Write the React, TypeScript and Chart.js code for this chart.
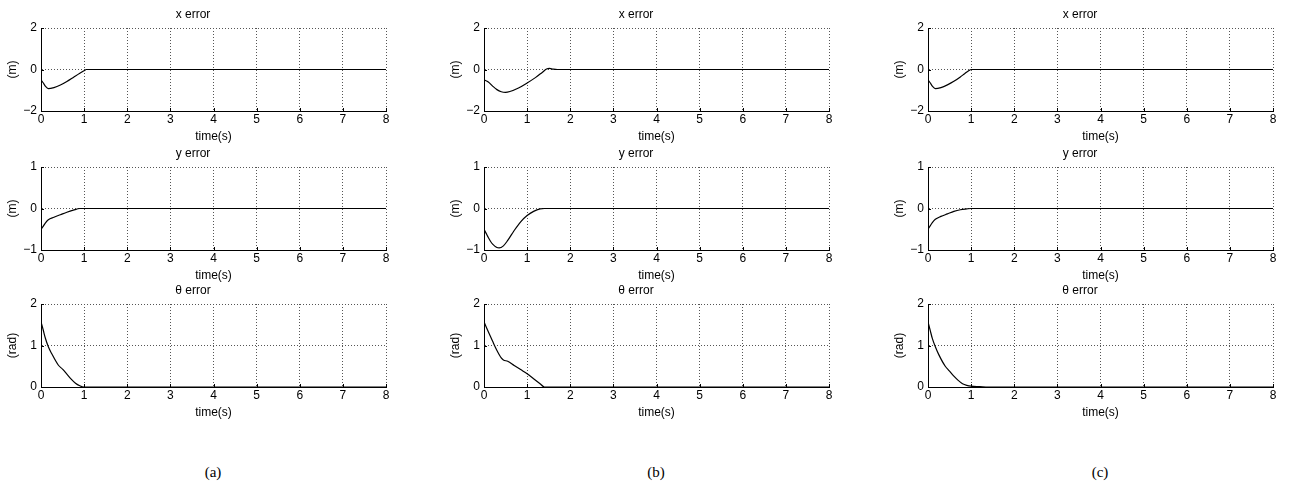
import React, { useEffect, useRef } from 'react';
import { Chart, registerables } from 'chart.js';

Chart.register(...registerables);

// ---------- data ----------
const timeTicks = [0, 1, 2, 3, 4, 5, 6, 7, 8];
const xErrTicks = [-2, 0, 2];
const yErrTicks = [-1, 0, 1];
const thErrTicks = [0, 1, 2];

const captions = ['(a)', '(b)', '(c)'];
const rowTitles = ['x error', 'y error', 'θ error'];
const rowUnits = ['(m)', '(m)', '(rad)'];
const xAxisTitle = 'time(s)';

// (a)
const aXTime = [0, 0.05, 0.1, 0.17, 0.3, 0.45, 0.6, 0.75, 0.9, 1.0, 1.05, 8];
const aXErr = [-0.5, -0.64, -0.8, -0.92, -0.87, -0.75, -0.58, -0.38, -0.18, -0.06, 0, 0];
const aYTime = [0, 0.05, 0.1, 0.17, 0.3, 0.45, 0.6, 0.75, 0.9, 8];
const aYErr = [-0.5, -0.43, -0.35, -0.27, -0.21, -0.15, -0.09, -0.04, 0, 0];
const aThTime = [0, 0.05, 0.1, 0.17, 0.25, 0.4, 0.5, 0.6, 0.7, 0.8, 0.9, 1.0, 8];
const aThErr = [1.57, 1.38, 1.18, 0.97, 0.8, 0.53, 0.43, 0.31, 0.19, 0.09, 0.03, 0, 0];

// (b)
const bXTime = [0, 0.1, 0.2, 0.3, 0.4, 0.5, 0.6, 0.8, 1.0, 1.2, 1.35, 1.45, 1.52, 1.6, 1.7, 8];
const bXErr = [-0.5, -0.6, -0.8, -0.97, -1.07, -1.1, -1.06, -0.89, -0.65, -0.38, -0.14, 0.02, 0.05, 0.02, 0, 0];
const bYTime = [0, 0.05, 0.1, 0.15, 0.2, 0.3, 0.35, 0.45, 0.55, 0.7, 0.85, 1.0, 1.15, 1.3, 1.4, 8];
const bYErr = [-0.5, -0.6, -0.7, -0.79, -0.86, -0.94, -0.95, -0.9, -0.77, -0.53, -0.32, -0.17, -0.07, -0.01, 0, 0];
const bThTime = [0, 0.1, 0.2, 0.3, 0.4, 0.45, 0.55, 0.7, 0.85, 1.0, 1.15, 1.3, 1.4, 8];
const bThErr = [1.57, 1.33, 1.1, 0.88, 0.7, 0.65, 0.62, 0.52, 0.42, 0.32, 0.2, 0.08, 0, 0];

// (c)
const cXTime = [0, 0.05, 0.1, 0.17, 0.3, 0.45, 0.6, 0.75, 0.85, 0.95, 1.0, 8];
const cXErr = [-0.5, -0.64, -0.8, -0.92, -0.87, -0.74, -0.57, -0.36, -0.2, -0.05, 0, 0];
const cYTime = [0, 0.05, 0.1, 0.17, 0.3, 0.45, 0.6, 0.75, 0.9, 1.0, 8];
const cYErr = [-0.5, -0.42, -0.34, -0.26, -0.19, -0.13, -0.07, -0.03, -0.01, 0, 0];
const cThTime = [0, 0.05, 0.1, 0.17, 0.25, 0.4, 0.5, 0.6, 0.7, 0.8, 0.9, 1.0, 1.2, 1.4, 8];
const cThErr = [1.57, 1.37, 1.17, 0.97, 0.78, 0.5, 0.38, 0.26, 0.16, 0.08, 0.04, 0.02, 0.01, 0, 0];

const series = [
  [[aXTime, aXErr], [aYTime, aYErr], [aThTime, aThErr]],
  [[bXTime, bXErr], [bYTime, bYErr], [bThTime, bThErr]],
  [[cXTime, cXErr], [cYTime, cYErr], [cThTime, cThErr]],
];
const rowTicks = [xErrTicks, yErrTicks, thErrTicks];

// ---------- layout ----------
const FONT = "'Liberation Sans', Arial, Helvetica, sans-serif";
const FS = 12;
const colLeft = [0, 443, 887];
const rowTop = [0, 139, 276];
const CW = 394;
const CH = 146;
const YW = 41; // y-axis box width
const XH = 35; // x-axis box height

const inwardTicks = {
  id: 'inwardTicks',
  afterDraw(chart: any) {
    const { ctx, chartArea, scales } = chart;
    const { left, bottom } = chartArea;
    ctx.save();
    ctx.strokeStyle = '#000';
    ctx.lineWidth = 1;
    ctx.beginPath();
    scales.x.ticks.forEach((t: any) => {
      const px = Math.round(scales.x.getPixelForValue(t.value)) + 0.5;
      ctx.moveTo(px, bottom);
      ctx.lineTo(px, bottom - 3);
    });
    scales.y.ticks.forEach((t: any) => {
      const py = Math.round(scales.y.getPixelForValue(t.value)) + 0.5;
      ctx.moveTo(left, py);
      ctx.lineTo(left + 3, py);
    });
    ctx.stroke();
    ctx.restore();
  },
};

function Panel(props: { col: number; row: number }) {
  const ref = useRef<HTMLCanvasElement>(null);
  const { col, row } = props;
  useEffect(() => {
    const [t, v] = series[col][row];
    const yt = rowTicks[row];
    const chart = new Chart(ref.current as HTMLCanvasElement, {
      type: 'line',
      data: {
        datasets: [
          {
            data: t.map((x, i) => ({ x, y: v[i] })),
            borderColor: '#000',
            borderWidth: 1.2,
            pointRadius: 0,
            cubicInterpolationMode: 'monotone',
            fill: false,
          },
        ],
      },
      plugins: [inwardTicks],
      options: {
        animation: false,
        responsive: false,
        devicePixelRatio: 1,
        layout: { padding: { left: 0, top: 0, right: 8, bottom: 0 } },
        plugins: {
          legend: { display: false },
          tooltip: { enabled: false },
          title: {
            display: true,
            text: rowTitles[row],
            color: '#000',
            font: { family: FONT, size: FS, weight: 'normal' },
            padding: { top: 7.5, bottom: 6.1 },
          },
        },
        scales: {
          x: {
            type: 'linear',
            min: timeTicks[0],
            max: timeTicks[timeTicks.length - 1],
            afterBuildTicks: (s: any) => {
              s.ticks = timeTicks.map((value) => ({ value }));
            },
            afterFit: (s: any) => {
              s.height = XH;
            },
            ticks: {
              color: '#000',
              font: { family: FONT, size: FS },
              padding: 1,
              maxRotation: 0,
              autoSkip: false,
            },
            grid: {
              color: '#555',
              lineWidth: 1,
              drawTicks: false,
            },
            border: { display: true, color: '#000', width: 1, dash: [1, 2] },
            title: {
              display: true,
              text: xAxisTitle,
              color: '#000',
              font: { family: FONT, size: FS },
              padding: { top: 0, bottom: 2 },
            },
          },
          y: {
            type: 'linear',
            min: yt[0],
            max: yt[yt.length - 1],
            afterBuildTicks: (s: any) => {
              s.ticks = yt.map((value) => ({ value }));
            },
            afterFit: (s: any) => {
              s.width = YW;
            },
            ticks: {
              color: '#000',
              font: { family: FONT, size: FS },
              padding: 4,
              callback: (val: any) => (val < 0 ? '\u2212' + Math.abs(val) : String(val)),
            },
            grid: {
              color: '#555',
              lineWidth: 1,
              drawTicks: false,
            },
            border: { display: true, color: '#000', width: 1, dash: [1, 2] },
            title: {
              display: true,
              text: rowUnits[row],
              color: '#000',
              font: { family: FONT, size: FS },
              padding: { top: 5.5, bottom: 0 },
            },
          },
        },
      },
    } as any);
    return () => chart.destroy();
  }, [col, row]);
  return (
    <div
      style={{
        position: 'absolute',
        left: colLeft[col],
        top: rowTop[row],
        width: CW,
        height: CH,
      }}
    >
      <canvas ref={ref} width={CW} height={CH} style={{ width: CW, height: CH, display: 'block' }} />
    </div>
  );
}

export default function App() {
  const panels = [];
  for (let c = 0; c < 3; c++) {
    for (let r = 0; r < 3; r++) {
      panels.push(<Panel key={`${c}-${r}`} col={c} row={r} />);
    }
  }
  return (
    <div
      style={{
        position: 'absolute',
        left: 0,
        top: 0,
        width: 1289,
        height: 487,
        background: '#fff',
        overflow: 'hidden',
      }}
    >
      {panels}
      {captions.map((cap, i) => (
        <div
          key={cap}
          style={{
            position: 'absolute',
            left: colLeft[i] + YW + 172 - 40,
            width: 80,
            top: 462,
            textAlign: 'center',
            fontFamily: "'Liberation Serif', 'Times New Roman', serif",
            fontSize: 15,
            lineHeight: '20px',
            color: '#000',
          }}
        >
          {cap}
        </div>
      ))}
    </div>
  );
}
